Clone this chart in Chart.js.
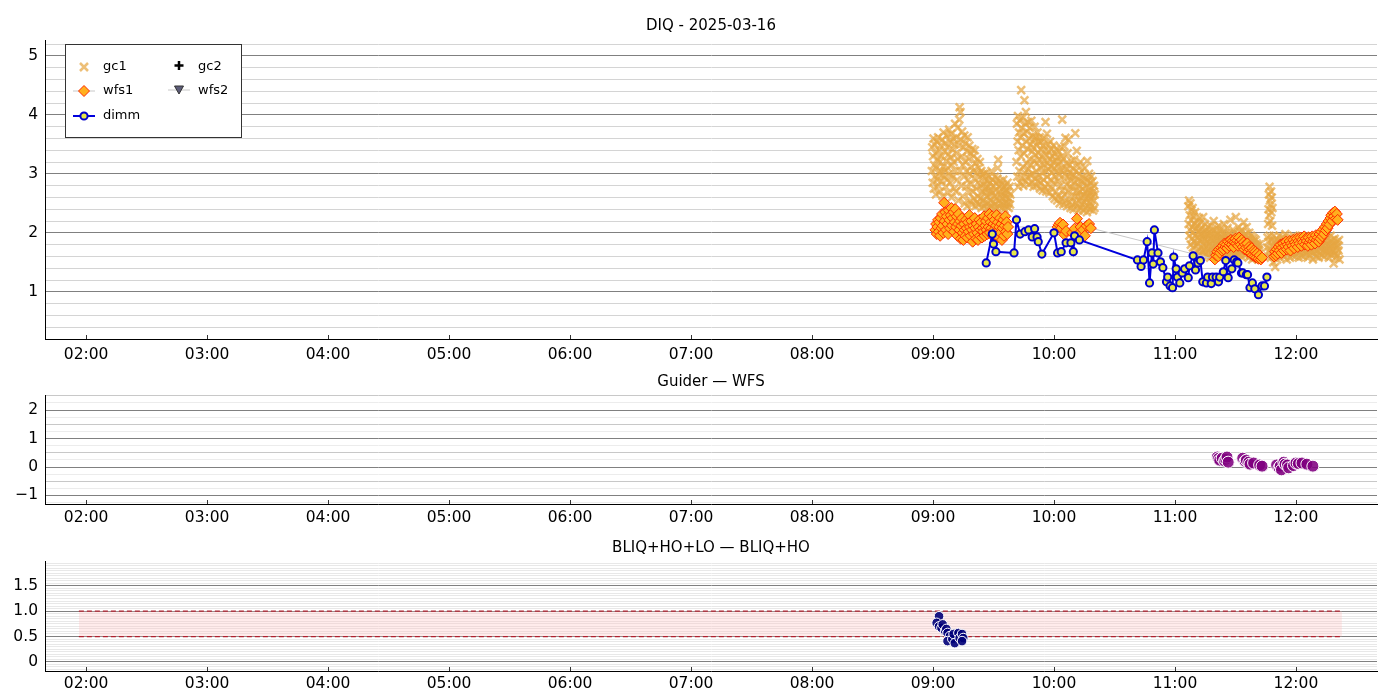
<!DOCTYPE html>
<html>
<head>
<meta charset="utf-8">
<script src="https://cdn.jsdelivr.net/npm/chart.js@4.4.1/dist/chart.umd.min.js"></script>
<style>
  body { margin: 0; background: #fff; }
  canvas { position: absolute; left: 0; }
</style>
</head>
<body>
<canvas id="diq" width="1400" height="365" style="top:0px"></canvas>
<canvas id="gw" width="1400" height="165" style="top:365px"></canvas>
<canvas id="bliq" width="1400" height="170" style="top:530px"></canvas>
<script>
const FONT = 'DejaVu Sans';

// x axis: hours of the night
const xTickHours = [2, 3, 4, 5, 6, 7, 8, 9, 10, 11, 12];
const xTickLabels = ['02:00', '03:00', '04:00', '05:00', '06:00', '07:00', '08:00', '09:00', '10:00', '11:00', '12:00'];

// [hour, value]
const gc1Points = [
  [8.990,3.05],[8.993,3.45],[8.997,2.85],[9.000,3.30],[9.004,3.60],[9.007,2.75],[9.010,3.15],[9.014,3.50],[9.017,2.95],[9.021,3.35],
  [9.024,2.65],[9.028,3.10],[9.031,3.55],[9.035,2.90],[9.038,3.25],[9.042,3.62],[9.045,2.80],[9.049,3.40],[9.052,3.00],[9.056,3.20],
  [9.059,2.70],[9.063,3.48],[9.066,3.05],[9.070,2.88],[9.073,3.30],[9.077,3.58],[9.080,2.62],[9.084,3.12],[9.087,3.70],[9.091,2.95],
  [9.094,3.38],[9.098,3.05],[9.101,3.52],[9.105,2.78],[9.108,3.22],[9.112,3.65],[9.115,2.90],[9.119,3.45],[9.122,3.10],[9.126,2.68],
  [9.129,3.33],[9.133,3.75],[9.136,3.00],[9.140,3.55],[9.143,2.85],[9.147,3.28],[9.150,3.68],[9.154,2.60],[9.157,3.15],[9.161,3.42],
  [9.164,2.95],[9.168,3.60],[9.171,3.20],[9.175,2.75],[9.178,3.50],[9.182,3.85],[9.185,3.05],[9.189,2.70],[9.192,3.35],[9.196,3.62],
  [9.199,2.90],[9.203,3.78],[9.206,3.25],[9.210,2.55],[9.213,3.48],[9.217,3.92],[9.220,4.13],[9.224,3.05],[9.227,4.05],[9.231,3.58],
  [9.234,2.80],[9.238,3.30],[9.241,3.72],[9.245,2.62],[9.248,3.15],[9.252,3.45],[9.255,2.95],[9.259,3.65],[9.262,2.50],[9.266,3.20],
  [9.269,3.52],[9.273,2.78],[9.276,3.05],[9.280,3.38],[9.283,2.45],[9.287,3.62],[9.290,2.90],[9.294,3.25],[9.297,2.68],[9.301,3.48],
  [9.304,3.00],[9.308,2.55],[9.311,3.35],[9.315,2.82],[9.318,3.12],[9.322,2.48],[9.325,3.42],[9.329,2.70],[9.332,3.05],[9.336,3.30],
  [9.339,2.58],[9.343,2.92],[9.346,3.40],[9.350,2.45],[9.353,3.18],[9.357,2.75],[9.360,3.02],[9.364,2.52],[9.367,3.25],[9.371,2.85],
  [9.374,2.62],[9.378,3.10],[9.381,2.48],[9.385,2.95],[9.388,3.20],[9.392,2.58],[9.395,2.80],[9.399,3.05],[9.402,2.42],[9.406,2.70],
  [9.409,2.98],[9.413,2.55],[9.416,2.82],[9.420,3.00],[9.423,2.45],[9.427,2.68],[9.430,2.90],[9.434,2.52],[9.437,2.75],[9.441,3.02],
  [9.444,2.40],[9.448,2.62],[9.451,2.88],[9.455,2.50],[9.458,2.78],[9.462,2.95],[9.465,2.42],[9.469,2.65],[9.472,2.85],[9.476,2.55],
  [9.479,2.72],[9.483,3.05],[9.486,2.45],[9.490,2.68],[9.493,2.90],[9.497,2.52],[9.500,2.80],[9.504,2.40],[9.507,2.62],[9.511,2.95],
  [9.514,2.48],[9.518,2.72],[9.521,2.85],[9.525,2.42],[9.528,2.60],[9.532,2.92],[9.535,3.10],[9.539,3.24],[9.542,2.55],[9.546,2.78],
  [9.549,2.45],[9.553,2.70],[9.556,2.88],[9.560,2.50],[9.563,2.65],[9.567,2.82],[9.570,2.42],[9.574,2.58],[9.577,2.75],[9.581,2.90],
  [9.584,2.48],[9.588,2.68],[9.591,2.40],[9.595,2.62],[9.598,2.80],[9.602,2.52],[9.605,2.72],[9.609,2.45],[9.612,2.60],[9.616,2.85],
  [9.619,2.50],[9.623,2.70],[9.626,2.42],[9.630,2.58],[9.633,2.78],[9.637,2.48],[9.640,2.65],
  [9.690,3.20],[9.693,3.85],[9.696,2.95],[9.699,3.55],[9.702,3.98],[9.705,2.78],[9.708,3.40],[9.711,3.70],[9.714,3.05],[9.717,3.90],
  [9.720,2.85],[9.723,3.62],[9.726,3.30],[9.729,4.42],[9.732,3.78],[9.735,2.92],[9.738,3.48],[9.741,3.95],[9.744,3.12],[9.747,2.80],
  [9.750,3.68],[9.753,3.35],[9.756,4.25],[9.759,3.02],[9.762,3.85],[9.765,2.88],[9.768,4.05],[9.771,3.55],[9.774,3.18],[9.777,3.72],
  [9.780,2.95],[9.783,3.42],[9.786,3.88],[9.789,3.08],[9.792,2.82],[9.795,3.60],[9.798,3.25],[9.801,3.78],[9.804,2.98],[9.807,3.50],
  [9.810,3.15],[9.813,3.90],[9.816,2.85],[9.819,3.38],[9.822,3.65],[9.825,3.00],[9.828,3.45],[9.831,2.78],[9.834,3.22],[9.837,3.58],
  [9.840,3.80],[9.843,2.92],[9.846,3.32],[9.849,3.62],[9.852,3.05],[9.855,2.80],[9.858,3.48],[9.861,3.18],[9.864,3.70],[9.867,2.88],
  [9.870,3.35],[9.873,3.55],[9.876,2.95],[9.879,3.25],[9.882,3.62],[9.885,2.75],[9.888,3.10],[9.891,3.42],[9.894,2.85],[9.897,3.55],
  [9.900,3.02],[9.903,3.30],[9.906,2.72],[9.909,3.48],[9.912,3.15],[9.915,2.90],[9.918,3.60],[9.921,3.22],[9.924,2.78],[9.927,3.40],
  [9.930,3.88],[9.933,3.05],[9.936,2.70],[9.939,3.32],[9.942,3.68],[9.945,2.95],[9.948,3.18],[9.951,3.50],[9.954,2.82],[9.957,3.08],
  [9.960,3.38],[9.963,2.68],[9.966,3.25],[9.969,3.55],[9.972,2.90],[9.975,3.12],[9.978,3.42],[9.981,2.75],[9.984,3.02],[9.987,3.30],
  [9.990,2.62],[9.993,3.20],[9.996,3.48],[9.999,2.85],[10.002,3.10],[10.005,2.58],[10.008,3.35],[10.011,2.95],[10.014,3.22],[10.017,2.70],
  [10.020,3.42],[10.023,3.05],[10.026,2.55],[10.029,3.28],[10.032,2.88],[10.035,3.15],[10.038,2.62],[10.041,3.38],[10.044,2.98],[10.047,2.50],
  [10.050,3.20],[10.053,2.80],[10.056,3.45],[10.059,3.05],[10.062,2.58],[10.065,3.30],[10.068,3.92],[10.071,2.72],[10.074,3.10],[10.077,2.48],
  [10.080,3.25],[10.083,2.92],[10.086,3.47],[10.089,2.65],[10.092,3.00],[10.095,3.61],[10.098,2.55],[10.101,3.18],[10.104,2.82],[10.107,2.45],
  [10.110,3.08],[10.113,3.35],[10.116,2.70],[10.119,3.58],[10.122,2.95],[10.125,2.52],[10.128,3.15],[10.131,2.78],[10.134,3.02],[10.137,2.42],
  [10.140,2.88],[10.143,3.22],[10.146,2.60],[10.149,2.95],[10.152,2.48],[10.155,3.10],[10.158,2.75],[10.161,2.40],[10.164,2.98],[10.167,3.24],
  [10.170,2.62],[10.173,2.85],[10.176,3.69],[10.179,2.50],[10.182,3.05],[10.185,2.72],[10.188,3.39],[10.191,2.45],[10.194,2.90],[10.197,2.62],
  [10.200,3.15],[10.203,2.38],[10.206,2.80],[10.209,3.00],[10.212,2.55],[10.215,2.70],[10.218,3.20],[10.221,2.42],[10.224,2.88],[10.227,2.60],
  [10.230,3.05],[10.233,2.48],[10.236,2.75],[10.239,2.95],[10.242,2.38],[10.245,2.65],[10.248,2.85],[10.251,2.52],[10.254,3.10],[10.257,2.70],
  [10.260,2.42],[10.263,2.92],[10.266,2.58],[10.269,2.80],[10.272,2.35],[10.275,3.22],[10.278,2.62],[10.281,2.88],[10.284,2.45],[10.287,2.72],
  [10.290,3.00],[10.293,2.52],[10.296,2.68],[10.299,2.40],[10.302,2.85],[10.305,2.58],[10.308,2.96],[10.311,2.45],[10.314,2.75],[10.317,2.62],
  [10.320,2.88],[10.323,2.38],[10.326,2.70],[10.329,2.55],[10.332,2.80],[10.335,2.42],[10.338,2.65],
  [11.110,2.45],[11.113,2.15],[11.116,2.55],[11.119,1.95],[11.122,2.30],[11.125,2.05],[11.128,2.50],[11.131,1.80],[11.134,2.22],[11.137,2.38],
  [11.140,1.90],[11.143,2.10],[11.146,2.42],[11.149,1.75],[11.152,2.00],[11.155,2.28],[11.158,1.85],[11.161,2.15],[11.164,1.65],[11.167,2.35],
  [11.170,1.95],[11.173,2.08],[11.176,1.78],[11.179,2.20],[11.182,1.60],[11.185,1.92],[11.188,2.12],[11.191,1.82],[11.194,2.02],[11.197,1.70],
  [11.200,2.25],[11.203,1.88],[11.206,2.05],[11.209,1.62],[11.212,1.98],[11.215,2.18],[11.218,1.75],[11.221,1.90],[11.224,2.08],[11.227,1.68],
  [11.230,1.95],[11.233,2.27],[11.236,1.80],[11.239,2.00],[11.242,1.72],[11.245,1.88],[11.248,2.15],[11.251,1.65],[11.254,1.92],[11.257,2.05],
  [11.260,1.78],[11.263,1.98],[11.266,1.60],[11.269,1.85],[11.272,2.10],[11.275,1.72],[11.278,1.95],[11.281,1.68],[11.284,2.02],[11.287,1.82],
  [11.290,1.58],[11.293,1.90],[11.296,2.12],[11.299,1.75],[11.302,1.98],[11.305,1.65],[11.308,1.85],[11.311,2.05],[11.314,1.70],[11.317,1.92],
  [11.320,2.20],[11.323,1.62],[11.326,1.88],[11.329,1.78],[11.332,2.00],[11.335,1.68],[11.338,1.95],[11.341,1.82],[11.344,2.08],[11.347,1.72],
  [11.350,1.90],[11.353,1.60],[11.356,1.98],[11.359,1.80],[11.362,2.12],[11.365,1.70],[11.368,1.88],[11.371,1.65],[11.374,1.95],[11.377,2.05],
  [11.380,1.75],[11.383,1.85],[11.386,1.62],[11.389,1.92],[11.392,1.78],[11.395,2.02],[11.398,1.68],[11.401,1.88],[11.404,2.15],[11.407,1.72],
  [11.410,1.95],[11.413,1.60],[11.416,1.82],[11.419,2.00],[11.422,1.70],[11.425,1.90],[11.428,1.65],[11.431,1.85],[11.434,2.08],[11.437,1.75],
  [11.440,1.92],[11.443,1.62],[11.446,1.80],[11.449,1.98],[11.452,1.72],[11.455,1.88],[11.458,2.22],[11.461,1.68],[11.464,1.85],[11.467,1.78],
  [11.470,1.95],[11.473,1.60],[11.476,1.82],[11.479,2.05],[11.482,1.70],[11.485,1.90],[11.488,1.65],[11.491,1.85],[11.494,2.00],[11.497,1.75],
  [11.500,1.92],[11.503,2.27],[11.506,1.68],[11.509,1.88],[11.512,1.62],[11.515,1.80],[11.518,1.98],[11.521,1.72],[11.524,2.10],[11.527,1.85],
  [11.530,1.65],[11.533,1.95],[11.536,1.78],[11.539,2.02],[11.542,1.70],[11.545,1.88],[11.548,1.60],[11.551,1.82],[11.554,2.05],[11.557,1.75],
  [11.560,1.92],[11.563,1.68],[11.566,1.85],[11.569,2.18],[11.572,1.72],[11.575,1.95],[11.578,1.62],[11.581,1.80],[11.584,1.98],[11.587,1.70],
  [11.590,1.88],[11.593,2.10],[11.596,1.65],[11.599,1.85],[11.602,1.75],[11.605,1.92],[11.608,1.58],[11.611,1.80],[11.614,2.00],[11.617,1.70],
  [11.620,1.88],[11.623,1.62],[11.626,1.82],[11.629,1.95],[11.632,1.68],[11.635,1.85],[11.638,1.55],[11.641,1.78],[11.644,1.92],[11.647,1.65],
  [11.650,1.85],[11.653,1.72],[11.656,1.90],[11.659,1.60],[11.662,1.80],[11.665,1.68],[11.668,1.88],[11.671,1.58],[11.674,1.75],[11.677,1.82],
  [11.680,1.62],[11.683,1.78],[11.686,1.70],[11.689,1.55],[11.692,1.72],[11.695,1.65],[11.698,1.80],
  [11.770,2.15],[11.773,2.40],[11.776,2.65],[11.779,2.30],[11.782,2.78],[11.785,2.55],[11.788,2.20],[11.791,2.48],[11.794,2.70],[11.797,2.35],
  [11.800,2.60],[11.803,2.12],[11.806,2.42],
  [11.760,1.75],[11.765,1.92],[11.768,1.60],[11.772,1.85],[11.778,1.68],[11.783,1.95],[11.787,1.72],[11.792,1.58],[11.798,1.88],[11.802,1.65],
  [11.808,1.80],[11.812,1.50],[11.816,1.95],[11.820,1.70],[11.824,1.85],[11.828,1.42],[11.832,1.62],[11.836,1.78],[11.840,1.90],[11.844,1.55],
  [11.848,1.72],[11.852,1.85],[11.856,1.65],[11.860,1.80],[11.864,1.95],[11.868,1.58],[11.872,1.75],[11.876,1.88],[11.880,1.68],[11.884,1.82],
  [11.888,1.62],[11.892,1.92],[11.896,1.72],[11.900,1.85],[11.904,1.60],[11.908,1.78],[11.912,1.98],[11.916,1.68],[11.920,1.82],[11.924,1.55],
  [11.928,1.75],[11.932,1.90],[11.936,1.65],[11.940,1.80],[11.944,1.70],[11.948,1.88],[11.952,1.58],[11.956,1.78],[11.960,1.92],[11.964,1.68],
  [11.968,1.85],[11.972,1.62],[11.976,1.75],[11.980,1.95],[11.984,1.70],[11.988,1.82],[11.992,1.60],[11.996,1.88],[12.000,1.72],[12.004,1.80],
  [12.008,1.65],[12.012,1.92],[12.016,1.75],[12.020,1.85],[12.024,1.58],[12.028,1.78],[12.032,1.90],[12.036,1.68],[12.040,1.82],[12.044,1.62],
  [12.048,1.95],[12.052,1.72],[12.056,1.85],[12.060,1.60],[12.064,1.78],[12.068,1.88],[12.072,1.70],[12.076,1.82],[12.080,1.65],[12.084,1.92],
  [12.088,1.75],[12.092,1.85],[12.096,1.58],[12.100,1.80],[12.104,1.70],[12.108,1.90],[12.112,1.62],[12.116,1.78],[12.120,1.85],[12.124,1.68],
  [12.128,1.95],[12.132,1.72],[12.136,1.82],[12.140,1.55],[12.144,1.75],[12.148,1.88],[12.152,1.65],[12.156,1.80],[12.160,1.70],[12.164,1.92],
  [12.168,1.60],[12.172,1.78],[12.176,1.85],[12.180,1.68],[12.184,1.82],[12.188,1.58],[12.192,1.75],[12.196,1.90],[12.200,1.65],[12.204,1.80],
  [12.208,1.72],[12.212,1.88],[12.216,1.62],[12.220,1.78],[12.224,1.95],[12.228,1.70],[12.232,1.85],[12.236,1.60],[12.240,1.75],[12.244,1.88],
  [12.248,1.68],[12.252,1.82],[12.256,1.72],[12.260,1.92],[12.264,1.65],[12.268,1.80],[12.272,1.58],[12.276,1.75],[12.280,1.85],[12.284,1.70],
  [12.288,1.95],[12.292,1.62],[12.296,1.78],[12.300,1.88],[12.304,1.68],[12.308,1.82],[12.312,1.48],[12.316,1.72],[12.320,1.90],[12.324,1.65],
  [12.328,1.80],[12.332,1.58],[12.336,1.75],[12.340,1.85],[12.344,1.62],[12.348,1.78],[12.352,1.70],[12.356,1.88],[12.360,1.55]
];

const gc2Points = [];

const wfs1Points = [
  [9.020,2.05],[9.026,2.15],[9.031,1.98],[9.037,2.10],[9.042,2.22],[9.048,2.02],[9.053,2.18],[9.059,1.95],[9.064,2.25],[9.070,2.08],
  [9.075,2.32],[9.081,2.12],[9.086,2.00],[9.092,2.51],[9.097,2.20],[9.103,2.35],[9.108,2.05],[9.114,2.28],[9.119,2.15],[9.125,1.98],
  [9.130,2.38],[9.136,2.22],[9.141,2.08],[9.147,2.30],[9.152,2.42],[9.158,2.12],[9.163,2.25],[9.169,2.35],[9.174,2.02],[9.180,2.18],
  [9.185,2.40],[9.191,2.10],[9.196,2.28],[9.202,1.95],[9.207,2.15],[9.213,2.32],[9.218,2.05],[9.224,2.20],[9.229,1.90],[9.235,2.12],
  [9.240,2.25],[9.246,2.00],[9.251,1.88],[9.257,2.15],[9.262,2.05],[9.268,1.95],[9.273,2.22],[9.279,2.08],[9.284,1.92],[9.290,2.18],
  [9.295,2.02],[9.301,2.30],[9.306,2.10],[9.312,1.95],[9.317,2.20],[9.323,2.05],[9.328,1.85],[9.334,2.12],[9.339,1.98],[9.345,2.25],
  [9.350,2.08],[9.356,1.90],[9.361,2.15],[9.367,2.00],[9.372,1.88],[9.378,2.10],[9.383,2.22],[9.389,1.95],[9.394,2.05],[9.400,2.18],
  [9.405,1.92],[9.411,2.08],[9.416,2.02],[9.422,2.28],[9.427,1.95],[9.433,2.12],[9.438,2.20],[9.444,2.05],[9.449,1.98],[9.455,2.25],
  [9.460,2.10],[9.466,2.32],[9.471,2.00],[9.477,2.18],[9.482,2.08],[9.488,2.28],[9.493,1.95],[9.499,2.15],[9.504,2.05],[9.510,2.22],
  [9.515,1.98],[9.521,2.12],[9.526,2.30],[9.532,2.02],[9.537,2.18],[9.543,1.92],[9.548,2.10],[9.554,2.25],[9.559,2.00],[9.565,2.15],
  [9.570,1.88],[9.576,2.08],[9.581,2.22],[9.587,1.95],[9.592,2.12],[9.598,2.28],[9.603,2.02],[9.609,2.18],[9.614,1.98],[9.620,2.10],
  [10.030,2.10],[10.040,2.14],[10.050,2.17],[10.060,2.08],[10.075,2.14],[10.085,1.97],[10.100,2.03],[10.150,2.00],[10.170,2.07],[10.190,2.24],
  [10.200,1.98],[10.220,2.10],[10.240,2.05],[10.255,1.95],[10.270,2.12],[10.290,2.15],[10.305,2.08],
  [11.330,1.55],[11.340,1.62],[11.350,1.68],[11.358,1.60],[11.365,1.72],[11.372,1.66],[11.380,1.75],[11.388,1.70],[11.395,1.78],[11.402,1.72],
  [11.410,1.82],[11.418,1.76],[11.425,1.80],[11.432,1.74],[11.440,1.85],[11.448,1.78],[11.455,1.82],[11.462,1.88],[11.470,1.80],[11.478,1.86],
  [11.485,1.76],[11.492,1.84],[11.500,1.90],[11.508,1.82],[11.515,1.87],[11.522,1.78],[11.530,1.92],[11.538,1.85],[11.545,1.80],[11.552,1.88],
  [11.560,1.76],[11.568,1.84],[11.575,1.72],[11.582,1.80],[11.590,1.75],[11.598,1.82],[11.605,1.68],[11.612,1.76],[11.620,1.72],[11.628,1.65],
  [11.635,1.74],[11.642,1.62],[11.650,1.70],[11.658,1.60],[11.665,1.68],[11.672,1.58],[11.680,1.65],[11.690,1.56],[11.700,1.62],[11.710,1.55],
  [11.720,1.58],
  [11.820,1.60],[11.828,1.68],[11.835,1.62],[11.842,1.72],[11.850,1.65],[11.858,1.76],[11.865,1.70],[11.872,1.80],[11.880,1.66],[11.888,1.75],
  [11.895,1.82],[11.902,1.70],[11.910,1.78],[11.918,1.85],[11.925,1.72],[11.932,1.80],[11.940,1.76],[11.948,1.86],[11.955,1.70],[11.962,1.82],
  [11.970,1.78],[11.978,1.88],[11.985,1.74],[11.992,1.84],[12.000,1.80],[12.008,1.90],[12.015,1.76],[12.022,1.86],[12.030,1.82],[12.038,1.92],
  [12.045,1.78],[12.052,1.88],[12.060,1.84],[12.068,1.94],[12.075,1.80],[12.082,1.90],[12.090,1.86],[12.098,1.78],[12.105,1.92],[12.112,1.84],
  [12.120,1.88],[12.128,1.80],[12.135,1.94],[12.142,1.86],[12.150,1.90],[12.158,1.82],[12.165,1.96],[12.172,1.88],[12.180,1.92],[12.188,1.85],
  [12.195,1.98],[12.202,1.90],[12.210,2.02],[12.218,1.94],[12.225,2.06],[12.232,1.98],[12.240,2.10],[12.248,2.04],[12.255,2.15],[12.262,2.08],
  [12.270,2.20],[12.278,2.14],[12.285,2.25],[12.292,2.30],[12.300,2.20],[12.308,2.34],[12.315,2.28],[12.322,2.36],[12.330,2.24],[12.338,2.32],
  [12.345,2.22]
];

const wfs2Points = [];

const dimmPoints = [
  [9.44,1.49],[9.49,1.98],[9.50,1.81],[9.52,1.68],[9.67,1.66],[9.69,2.22],[9.72,1.98],[9.76,2.02],[9.79,2.05],[9.82,1.93],
  [9.84,2.07],[9.86,1.93],[9.87,1.85],[9.90,1.64],[10.00,2.00],[10.03,1.66],[10.06,1.68],[10.10,1.83],[10.14,1.83],[10.16,1.68],
  [10.17,1.95],[10.21,1.88],
  [10.69,1.54],[10.72,1.43],[10.74,1.54],[10.77,1.85],[10.79,1.15],[10.81,1.66],[10.82,1.47],[10.83,2.05],[10.86,1.66],[10.88,1.51],
  [10.90,1.41],[10.93,1.17],[10.94,1.25],[10.96,1.10],[10.98,1.07],[10.99,1.59],[11.01,1.39],[11.02,1.25],[11.04,1.15],[11.06,1.32],
  [11.08,1.39],[11.11,1.24],[11.12,1.44],[11.15,1.61],[11.17,1.37],[11.19,1.49],[11.21,1.53],[11.23,1.17],[11.26,1.15],[11.27,1.25],
  [11.30,1.14],[11.31,1.25],[11.34,1.25],[11.36,1.17],[11.37,1.25],[11.40,1.34],[11.42,1.53],[11.44,1.24],[11.47,1.39],[11.49,1.54],
  [11.51,1.51],[11.52,1.49],[11.55,1.32],[11.56,1.32],[11.59,1.29],[11.60,1.29],[11.62,1.07],[11.64,1.15],[11.66,1.05],[11.69,0.95],
  [11.72,1.10],[11.74,1.10],[11.76,1.25]
];

// Guider - WFS difference
const guiderWfsPoints = [
  [11.35,0.35],[11.36,0.30],[11.37,0.24],[11.39,0.31],[11.41,0.21],[11.42,0.27],[11.43,0.35],[11.44,0.17],
  [11.56,0.31],[11.58,0.20],[11.59,0.24],[11.61,0.17],[11.62,0.10],[11.65,0.14],[11.70,0.07],[11.72,0.03],
  [11.84,0.07],[11.86,-0.03],[11.87,0.03],[11.88,-0.10],[11.90,0.17],[11.91,0.10],[11.93,0.07],[11.94,-0.03],
  [11.98,0.05],[12.00,0.14],[12.02,0.12],[12.05,0.14],[12.09,0.10],[12.14,0.03]
];

// BLIQ+HO+LO - BLIQ+HO difference
const bliqPoints = [
  [9.05,0.90],[9.03,0.77],[9.05,0.70],[9.07,0.67],[9.08,0.74],[9.10,0.61],[9.11,0.65],[9.12,0.57],[9.14,0.51],
  [9.12,0.41],[9.16,0.45],[9.17,0.55],[9.18,0.37],[9.21,0.57],[9.22,0.47],[9.24,0.55],[9.25,0.47],[9.24,0.41]
];
const bandTimes = [1.94, 12.38];
const bandUpper = [1.0, 1.0];
const bandLower = [0.5, 0.5];

function xy(pairs) { return pairs.map(p => ({ x: p[0], y: p[1] })); }
function isMult(v, s) { const q = v / s; return Math.abs(q - Math.round(q)) < 1e-6; }
function stepTicks(min, max, step) {
  const out = [];
  for (let k = Math.ceil(min / step - 1e-9); k * step <= max + 1e-9; k++) out.push({ value: +(k * step).toFixed(6) });
  return out;
}

// short tick marks pointing into the plot, and titles centred over the plot area
const panelBits = {
  id: 'panelBits',
  afterLayout(chart) {
    const tb = chart.titleBlock;
    if (tb) { tb.left = chart.chartArea.left; tb.right = chart.chartArea.right; tb.width = tb.right - tb.left; }
  },
  afterDraw(chart) {
    const s = chart.scales.x, ctx = chart.ctx, b = chart.chartArea.bottom;
    ctx.save();
    ctx.strokeStyle = '#333';
    ctx.lineWidth = 1;
    s.ticks.forEach(t => {
      const px = Math.round(s.getPixelForValue(t.value)) + 0.5;
      ctx.beginPath(); ctx.moveTo(px, b); ctx.lineTo(px, b - 4); ctx.stroke();
    });
    ctx.restore();
  }
};

function xScale(h, pad) {
  return {
    type: 'linear', min: 1.66, max: 12.67,
    afterBuildTicks: s => { s.ticks = xTickHours.map(v => ({ value: v })); },
    afterFit: s => { s.height = h; },
    grid: { display: false, drawTicks: false },
    border: { display: true, color: '#000', width: 1 },
    ticks: { autoSkip: false, maxRotation: 0, padding: pad, color: '#000', font: { family: FONT, size: 15.5 },
      callback: (v, i) => xTickLabels[i] }
  };
}

function yScale(min, max, step, gridColor, label) {
  return {
    type: 'linear', min, max,
    afterBuildTicks: s => { s.ticks = stepTicks(min, max, step); },
    afterFit: s => { s.width = 45; },
    grid: { drawTicks: false, lineWidth: 1, color: c => gridColor(c.tick.value) },
    border: { display: true, color: '#000', width: 1 },
    ticks: { autoSkip: false, padding: 7, color: '#000', font: { family: FONT, size: 15.5 }, callback: v => label(v) }
  };
}

function title(text, top, bottom) {
  return { display: true, text, color: '#000', font: { family: FONT, size: 15, weight: 'normal' }, padding: { top, bottom } };
}

const common = {
  responsive: false, animation: false, events: [],
  layout: { padding: { left: 0, right: 23, top: 0, bottom: 0 } }
};

// legend box drawn inside the top panel
const GC1_COLOR = 'rgba(230,166,66,0.72)';
const diqLegend = {
  id: 'diqLegend',
  afterDraw(chart) {
    const ctx = chart.ctx;
    ctx.save();
    ctx.fillStyle = '#fff';
    ctx.strokeStyle = '#333';
    ctx.lineWidth = 1;
    ctx.fillRect(65.5, 44.5, 176, 93);
    ctx.strokeRect(65.5, 44.5, 176, 93);
    ctx.font = '13px "' + FONT + '"';
    ctx.fillStyle = '#000';
    ctx.textBaseline = 'middle';
    ctx.fillText('gc1', 103, 67);
    ctx.fillText('gc2', 198, 67);
    ctx.fillText('wfs1', 103, 91);
    ctx.fillText('wfs2', 198, 91);
    ctx.fillText('dimm', 103, 116);
    // gc1
    ctx.strokeStyle = GC1_COLOR; ctx.lineWidth = 2.5;
    ctx.beginPath(); ctx.moveTo(80, 63); ctx.lineTo(88, 71); ctx.moveTo(88, 63); ctx.lineTo(80, 71); ctx.stroke();
    // gc2
    ctx.strokeStyle = '#000'; ctx.lineWidth = 2.5;
    ctx.beginPath(); ctx.moveTo(179, 61); ctx.lineTo(179, 70); ctx.moveTo(174.5, 65.5); ctx.lineTo(183.5, 65.5); ctx.stroke();
    // wfs1
    ctx.strokeStyle = '#c8c8c8'; ctx.lineWidth = 1;
    ctx.beginPath(); ctx.moveTo(73, 91); ctx.lineTo(95, 91); ctx.stroke();
    ctx.beginPath(); ctx.moveTo(84, 85.5); ctx.lineTo(89.5, 91); ctx.lineTo(84, 96.5); ctx.lineTo(78.5, 91); ctx.closePath();
    ctx.fillStyle = '#ffb01e'; ctx.fill(); ctx.strokeStyle = '#ff2a00'; ctx.stroke();
    // wfs2
    ctx.strokeStyle = '#c8c8c8';
    ctx.beginPath(); ctx.moveTo(168, 90); ctx.lineTo(190, 90); ctx.stroke();
    ctx.beginPath(); ctx.moveTo(174.5, 86); ctx.lineTo(183.5, 86); ctx.lineTo(179, 94); ctx.closePath();
    ctx.fillStyle = '#5c5c78'; ctx.fill(); ctx.strokeStyle = '#333'; ctx.stroke();
    // dimm
    ctx.strokeStyle = '#0000dd'; ctx.lineWidth = 2;
    ctx.beginPath(); ctx.moveTo(73, 116); ctx.lineTo(95, 116); ctx.stroke();
    ctx.beginPath(); ctx.arc(84, 116, 3.6, 0, Math.PI * 2);
    ctx.fillStyle = '#e6e64a'; ctx.fill(); ctx.strokeStyle = '#0000cc'; ctx.stroke();
    ctx.restore();
  }
};

new Chart(document.getElementById('diq'), {
  type: 'scatter',
  data: {
    datasets: [
      { label: 'dimm', data: xy(dimmPoints), showLine: true, borderColor: '#0000dd', borderWidth: 2,
        pointRadius: 3.6, pointBackgroundColor: '#e6e64a', pointBorderColor: '#0000cc', pointBorderWidth: 2, order: 1 },
      { label: 'wfs1', data: xy(wfs1Points), showLine: true, borderColor: '#c8c8c8', borderWidth: 1,
        pointStyle: 'rectRot', pointRadius: 5.5, pointBackgroundColor: '#ffb01e', pointBorderColor: '#ff2a00', pointBorderWidth: 1, order: 2 },
      { label: 'wfs2', data: xy(wfs2Points), showLine: true, borderColor: '#c8c8c8', borderWidth: 1,
        pointStyle: 'triangle', rotation: 180, pointRadius: 5, pointBackgroundColor: '#5c5c78', pointBorderColor: '#333', order: 3 },
      { label: 'gc2', data: xy(gc2Points), pointStyle: 'cross', pointRadius: 5, pointBorderColor: '#000', pointBorderWidth: 2.5, order: 4 },
      { label: 'gc1', data: xy(gc1Points), pointStyle: 'crossRot', pointRadius: 5.5, pointBorderColor: GC1_COLOR,
        pointBackgroundColor: GC1_COLOR, pointBorderWidth: 2.5, order: 5 }
    ]
  },
  options: Object.assign({}, common, {
    plugins: { legend: { display: false }, tooltip: { enabled: false }, title: title('DIQ - 2025-03-16', 17, 5) },
    scales: {
      x: xScale(26, 7),
      y: yScale(0.2, 5.27, 0.2,
        v => isMult(v, 1) ? '#808080' : (isMult(v, 0.2) ? '#d4d4d4' : 'rgba(0,0,0,0)'),
        v => isMult(v, 1) ? String(Math.round(v)) : '')
    }
  }),
  plugins: [panelBits, diqLegend]
});

new Chart(document.getElementById('gw'), {
  type: 'scatter',
  data: {
    datasets: [
      { label: 'Guider — WFS', data: xy(guiderWfsPoints), pointRadius: 6, pointBackgroundColor: 'rgba(128,0,128,0.88)',
        pointBorderColor: '#fff', pointBorderWidth: 1 }
    ]
  },
  options: Object.assign({}, common, {
    plugins: { legend: { display: false }, tooltip: { enabled: false }, title: title('Guider — WFS', 8, 4) },
    scales: {
      x: xScale(26, 5),
      y: yScale(-1.3, 2.53, 0.25,
        v => isMult(v, 1) ? '#808080' : (isMult(v, 0.5) ? '#c8c8c8' : '#ececec'),
        v => isMult(v, 1) ? String(Math.round(v)).replace('-', '\u2212') : '')
    }
  }),
  plugins: [panelBits]
});

new Chart(document.getElementById('bliq'), {
  type: 'scatter',
  data: {
    datasets: [
      { label: 'BLIQ+HO+LO — BLIQ+HO', data: xy(bliqPoints), pointRadius: 4.8, pointBackgroundColor: 'rgba(0,0,120,0.9)',
        pointBorderColor: '#fff', pointBorderWidth: 1, order: 0 },
      { type: 'line', label: 'upper', data: bandTimes.map((t, i) => ({ x: t, y: bandUpper[i] })), borderColor: '#b0202e',
        borderWidth: 1.3, borderDash: [5, 3], pointRadius: 0, fill: false, order: 1 },
      { type: 'line', label: 'lower', data: bandTimes.map((t, i) => ({ x: t, y: bandLower[i] })), borderColor: '#b0202e',
        borderWidth: 1.3, borderDash: [5, 3], pointRadius: 0, fill: '-1', backgroundColor: 'rgba(255,190,190,0.3)', order: 2 }
    ]
  },
  options: Object.assign({}, common, {
    plugins: { legend: { display: false }, tooltip: { enabled: false }, title: title('BLIQ+HO+LO — BLIQ+HO', 9, 4) },
    scales: {
      x: xScale(29, 4),
      y: yScale(-0.18, 1.99, 0.05,
        v => isMult(v, 0.5) ? '#808080' : '#e8e8e8',
        v => isMult(v, 0.5) ? (Math.abs(v) < 1e-9 ? '0' : v.toFixed(1)) : '')
    }
  }),
  plugins: [panelBits]
});
</script>
</body>
</html>
